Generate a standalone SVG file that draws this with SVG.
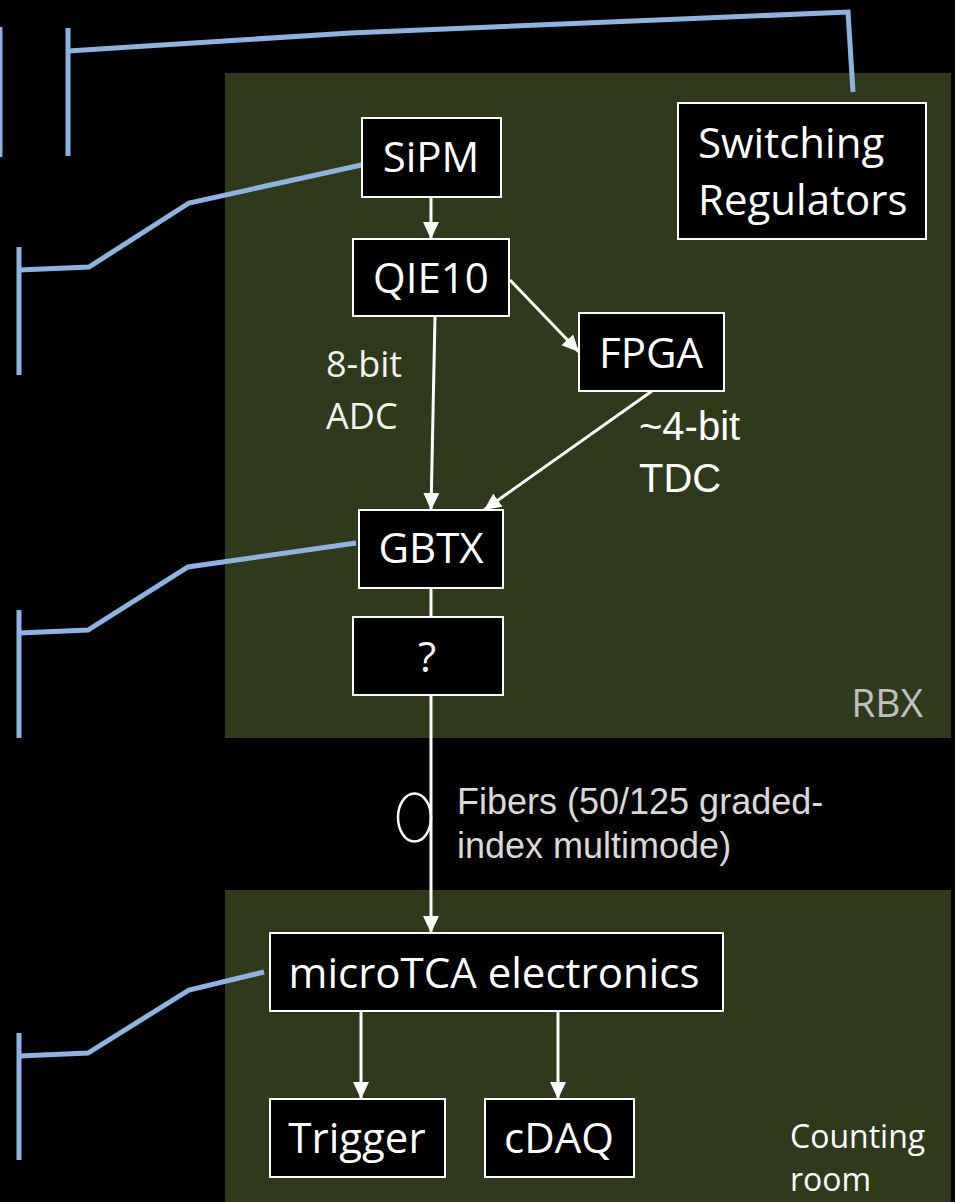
<svg xmlns="http://www.w3.org/2000/svg" width="955" height="1202" viewBox="0 0 955 1202">
<defs>
<style>
.node rect{fill:#000;stroke:#fff;stroke-width:2}
.node text{fill:#fff;font-family:"Open Sans","Noto Sans",sans-serif;font-size:42px;text-anchor:middle}
.wire{stroke:#fff;stroke-width:3;fill:none}
.blue{stroke:#8db3e2;stroke-width:5;fill:none;stroke-linejoin:miter}
.lbl{fill:#f2f2f2;font-family:"Open Sans","Noto Sans",sans-serif;font-size:36px}
.arial{font-family:"Liberation Sans",Arial,sans-serif}
</style>
<marker id="ah" markerUnits="userSpaceOnUse" markerWidth="18" markerHeight="17" refX="17" refY="8.5" orient="auto">
<path d="M0,0.5 L17,8.5 L0,16.5 Z" fill="#fff"/>
</marker>
</defs>
<rect x="0" y="0" width="955" height="1202" fill="#000"/>
<g id="rbx-panel">
<rect x="225" y="73" width="726" height="665" fill="#2f3a1a"/>
<text x="923" y="717" text-anchor="end" font-family="Open Sans, Noto Sans, sans-serif" font-size="39" fill="#bfbfbf">RBX</text>
</g>
<g id="counting-panel">
<rect x="225" y="890" width="726" height="312" fill="#2f3a1a"/>
<text font-family="Open Sans, Noto Sans, sans-serif" font-size="32" fill="#fff"><tspan x="790" y="1148">Counting</tspan><tspan x="790" y="1191">room</tspan></text>
</g>
<g id="connectors">
<line class="wire" x1="431" y1="198" x2="431" y2="239" marker-end="url(#ah)"/>
<line class="wire" x1="510" y1="280" x2="579" y2="352" marker-end="url(#ah)"/>
<line class="wire" x1="435" y1="317" x2="431" y2="510" marker-end="url(#ah)"/>
<line class="wire" x1="652" y1="391" x2="484" y2="510" marker-end="url(#ah)"/>
<line class="wire" x1="431" y1="588" x2="431" y2="617"/>
<line class="wire" x1="431" y1="695" x2="431" y2="933" marker-end="url(#ah)"/>
<line class="wire" x1="361" y1="1011" x2="361" y2="1099" marker-end="url(#ah)"/>
<line class="wire" x1="558" y1="1011" x2="558" y2="1099" marker-end="url(#ah)"/>
<ellipse cx="414.5" cy="817.5" rx="16.5" ry="24" fill="none" stroke="#fff" stroke-width="2.5"/>
</g>
<g id="blue-lines">
<line class="blue" x1="0" y1="27" x2="0" y2="157"/>
<line class="blue" x1="68" y1="28" x2="68" y2="156"/>
<polyline class="blue" points="68,51 350,33 848,12 853,92"/>
<polyline class="blue" points="366,164 189,203 89,267 19,270"/>
<line class="blue" x1="19" y1="247" x2="19" y2="375"/>
<polyline class="blue" points="356,543 188,567 88,630 19,633"/>
<line class="blue" x1="19" y1="610" x2="19" y2="738"/>
<polyline class="blue" points="264,972 189,990 88,1053 19,1056"/>
<line class="blue" x1="19" y1="1033" x2="19" y2="1160"/>
</g>
<g id="sipm" class="node"><rect x="362" y="118" width="139" height="79"/><text x="431" y="172">SiPM</text></g>
<g id="qie10" class="node"><rect x="353" y="239" width="156" height="77"/><text x="431" y="293">QIE10</text></g>
<g id="fpga" class="node"><rect x="579" y="313" width="145" height="78"/><text x="651" y="368">FPGA</text></g>
<g id="gbtx" class="node"><rect x="359" y="510" width="144" height="78"/><text x="431" y="563">GBTX</text></g>
<g id="unknown" class="node"><rect x="353" y="617" width="150" height="78"/><text x="427" y="672">?</text></g>
<g id="regulators" class="node"><rect x="678" y="103" width="248" height="136"/><text x="698" y="158" style="text-anchor:start">Switching</text><text x="698" y="215" style="text-anchor:start">Regulators</text></g>
<g id="microtca" class="node"><rect x="270" y="933" width="453" height="78"/><text x="494" y="988">microTCA electronics</text></g>
<g id="trigger" class="node"><rect x="270" y="1099" width="175" height="78"/><text x="357" y="1153">Trigger</text></g>
<g id="cdaq" class="node"><rect x="485" y="1099" width="149" height="78"/><text x="559" y="1153">cDAQ</text></g>
<g id="labels">
<text class="lbl"><tspan x="326" y="377">8-bit</tspan><tspan x="326" y="429">ADC</tspan></text>
<text class="arial" font-size="40" fill="#fff"><tspan x="639" y="440">~4-bit</tspan><tspan x="639" y="492">TDC</tspan></text>
<text class="arial" font-size="36" fill="#d9d9d9"><tspan x="457" y="814">Fibers (50/125 graded-</tspan><tspan x="457" y="858">index multimode)</tspan></text>
</g>
</svg>
